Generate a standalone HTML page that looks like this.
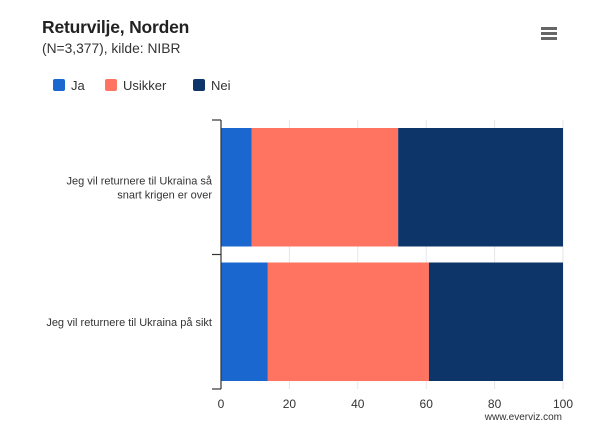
<!DOCTYPE html>
<html><head><meta charset="utf-8"><style>
body{margin:0;background:#fff;font-family:"Liberation Sans",sans-serif;}
#wrap{position:relative;width:606px;height:429px;overflow:hidden;}
</style></head><body>
<div id="wrap">
<svg id="chart" width="606" height="429">
<text x="42" y="33" font-size="17.5" font-weight="bold" letter-spacing="-0.2" fill="#222">Returvilje, Norden</text>
<text x="42" y="53" font-size="13.8" fill="#333">(N=3,377), kilde: NIBR</text>
<g>
<rect x="541" y="27" width="16" height="3" fill="#666"/><rect x="541" y="32" width="16" height="3" fill="#666"/><rect x="541" y="37" width="16" height="3" fill="#666"/>
</g>
<g id="legend"></g>
<g id="grid"></g><g id="bars"></g><g id="axes"></g>
<text x="562" y="420" font-size="10" fill="#333" text-anchor="end">www.everviz.com</text>
</svg></div>
<script>
const categories=["Jeg vil returnere til Ukraina så snart krigen er over","Jeg vil returnere til Ukraina på sikt"];
const seriesNames=["Ja","Usikker","Nei"];
const ja=[9.0,13.7];
const usikker=[42.8,47.1];
const nei=[48.2,39.2];
const ticks=[0,20,40,60,80,100];
const colors=["#1a68cf","#ff7461","#0e3569"];
const NS="http://www.w3.org/2000/svg";
const svg=document.getElementById('chart');
function mk(t,a,p){const e=document.createElementNS(NS,t);for(const k in a)e.setAttribute(k,a[k]);(p||svg).appendChild(e);return e;}
const x0=221,x1=563,yTop=120,yBot=389;
const xs=v=>x0+(v/100)*(x1-x0);
const band=(yBot-yTop)/categories.length;
const grid=document.getElementById('grid'),bars=document.getElementById('bars'),axes=document.getElementById('axes'),leg=document.getElementById('legend');
ticks.forEach(t=>{
 if(t>0){const l=mk('line',{x1:xs(t),x2:xs(t),y1:yTop,y2:yBot,stroke:'#e6e6e6','stroke-width':1},grid);
 
 }
 const tx=mk('text',{x:xs(t),y:408,'font-size':12,fill:'#333','text-anchor':'middle'},axes);tx.textContent=t;
 
 
});
const series=[ja,usikker,nei];
categories.forEach((c,i)=>{
 const yb=yTop+band*i+8, h=band-16;
 let acc=0;
 series.forEach((s,j)=>{
  const r=mk('rect',{x:xs(acc),y:yb,width:xs(acc+s[i])-xs(acc),height:h,fill:colors[j]},bars);
  
  
  acc+=s[i];
 });
});
mk('line',{x1:x0,x2:x0,y1:yTop,y2:yBot,stroke:'#333','stroke-width':1.2},axes);
for(let i=0;i<=categories.length;i++){const y=yTop+band*i;mk('line',{x1:x0-9,x2:x0,y1:y,y2:y,stroke:'#333','stroke-width':1.2},axes);}
const lbl=[["Jeg vil returnere til Ukraina så","snart krigen er over"],["Jeg vil returnere til Ukraina på sikt"]];
lbl.forEach((lines,i)=>{
 const cy=yTop+band*(i+0.5);
 const t=mk('text',{x:212,'font-size':11,fill:'#333','text-anchor':'end'},axes);
 
 
 lines.forEach((ln,k)=>{const ts=mk('tspan',{x:212,y:cy+4+(k-(lines.length-1)/2)*14},t);ts.textContent=ln;});
});
let lx=53;
seriesNames.forEach((n,j)=>{
 const g=mk('g',{},leg);
 
 
 mk('rect',{x:lx,y:79,width:12,height:12,rx:2,fill:colors[j]},g);
 const t=mk('text',{x:lx+18,y:90,'font-size':13,fill:'#333'},g);t.textContent=n;
 lx+=[52,88,0][j];
});
</script>
</body></html>
